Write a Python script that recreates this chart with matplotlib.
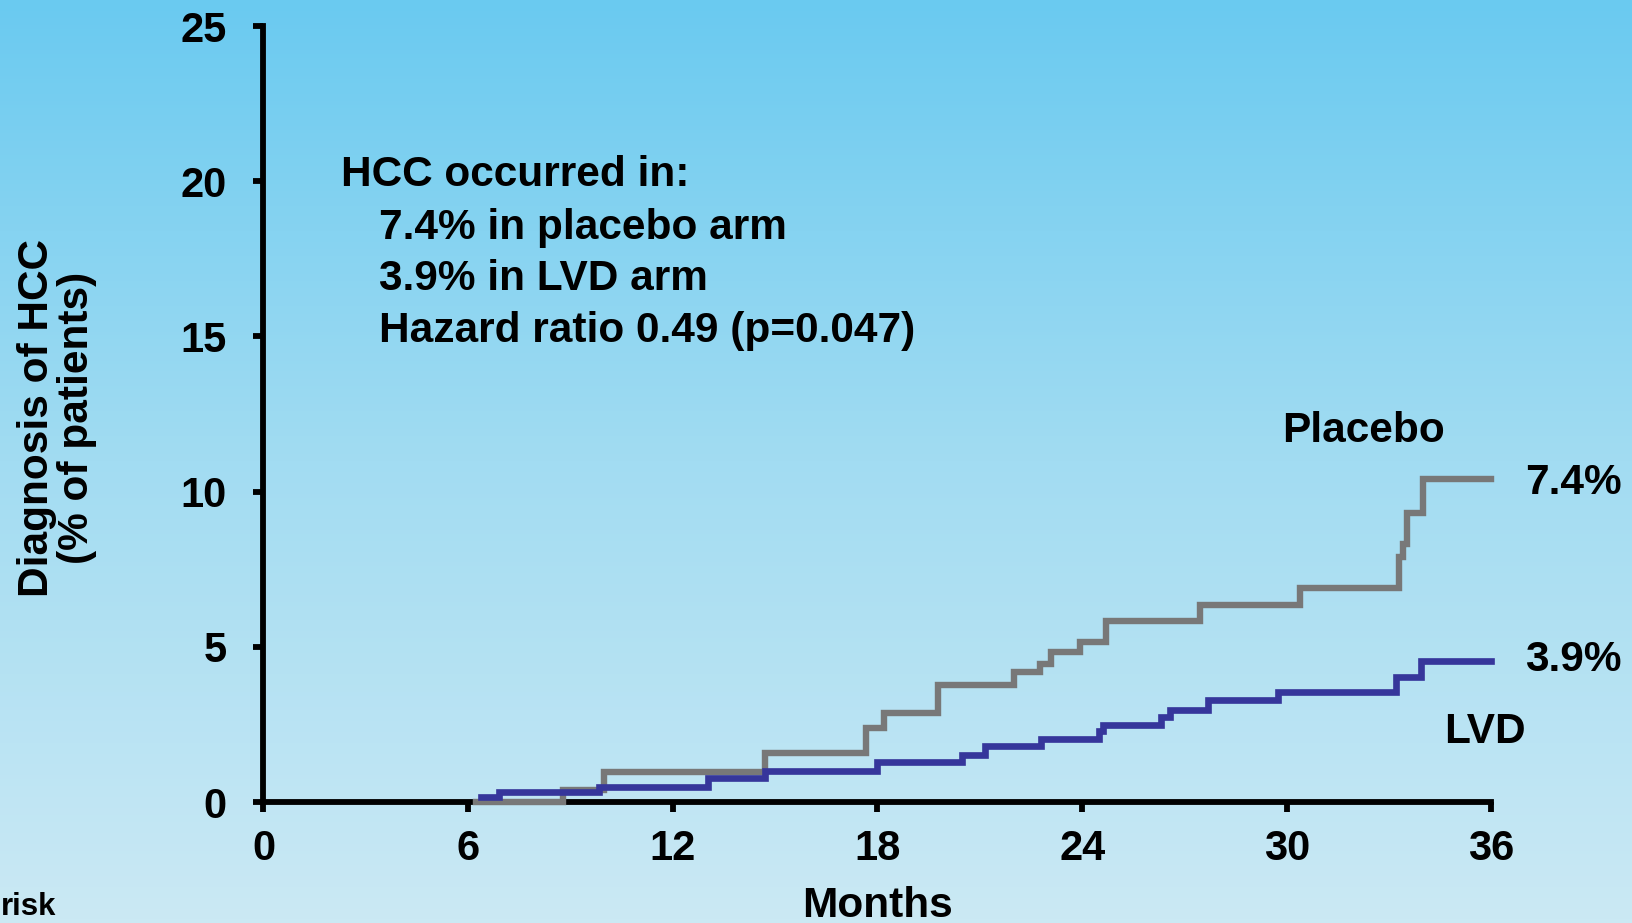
import numpy as np
import matplotlib
matplotlib.use("Agg")
import matplotlib.pyplot as plt
from matplotlib.colors import LinearSegmentedColormap

# ---- data ----
placebo_t = [6.23, 8.78, 9.98, 14.7, 17.66, 18.2, 19.76, 22.0, 22.75, 23.1, 23.94, 24.7, 27.46, 30.4, 33.3, 33.4, 33.53, 33.98, 36.0]
placebo_y = [0.0, 0.4, 0.97, 1.58, 2.4, 2.87, 3.76, 4.18, 4.45, 4.83, 5.15, 5.84, 6.35, 6.89, 7.9, 8.3, 9.3, 10.4, 10.4]
lvd_t = [6.38, 6.9, 9.83, 13.04, 14.7, 18.0, 20.48, 21.15, 22.8, 24.5, 24.6, 26.3, 26.57, 27.7, 29.75, 33.2, 33.94, 36.0]
lvd_y = [0.15, 0.32, 0.49, 0.77, 1.0, 1.3, 1.51, 1.8, 2.03, 2.3, 2.48, 2.74, 2.96, 3.29, 3.54, 4.03, 4.55, 4.55]
x_ticks = [0, 6, 12, 18, 24, 30, 36]
y_ticks = [0, 5, 10, 15, 20, 25]
notes = ["HCC occurred in:", "7.4% in placebo arm", "3.9% in LVD arm", "Hazard ratio 0.49 (p=0.047)"]

plt.rcParams['font.family'] = ['Liberation Sans', 'DejaVu Sans']
plt.rcParams['font.weight'] = 'bold'

W, H = 1633, 923
fig = plt.figure(figsize=(W / 100, H / 100), dpi=100)

# background gradient
bg = fig.add_axes([0, 0, 1, 1], zorder=-10)
cmap = LinearSegmentedColormap.from_list("bg", [(0.0, "#6ACAF0"), (0.5, "#A2DCF2"), (1.0, "#CBE9F4")])
grad = np.linspace(0, 1, 256).reshape(-1, 1)
bg.imshow(grad, aspect='auto', cmap=cmap, extent=[0, 1, 0, 1], origin='upper')
bg.axis('off')

left, right = 263.5 / W, 1491.5 / W
bottom, top = 1 - 802 / H, 1 - 26 / H
ax = fig.add_axes([left, bottom, right - left, top - bottom])
ax.patch.set_alpha(0)

ax.step(placebo_t, placebo_y, where='post', color='#787878', lw=4.6, solid_joinstyle='miter', zorder=3)
ax.step(lvd_t, lvd_y, where='post', color='#36369B', lw=4.8, solid_joinstyle='miter', zorder=4)

tfs = 30
ax.set_xlim(0, 36)
ax.set_ylim(0, 25)
ax.set_xticks(x_ticks)
ax.set_yticks(y_ticks)
ax.set_xticklabels([str(v) for v in x_ticks], fontsize=tfs, fontweight='bold')
ax.set_yticklabels([str(v) for v in y_ticks], fontsize=tfs, fontweight='bold')
for s in ['top', 'right']:
    ax.spines[s].set_visible(False)
for s in ['left', 'bottom']:
    ax.spines[s].set_linewidth(4.2)
    ax.spines[s].set_color('black')
ax.tick_params(axis='both', direction='out', length=7.5, width=4.2, colors='black')
ax.tick_params(axis='x', pad=12)
ax.tick_params(axis='y', pad=19)
for ln in ax.lines:
    ln.set_clip_on(False)

def fx(px):
    return px / W

def fy(py):
    return 1 - py / H

fs = 30.5
fig.text(fx(341), fy(175), notes[0], fontsize=fs, fontweight='bold', ha='left', va='center')
fig.text(fx(379), fy(228), notes[1], fontsize=fs, fontweight='bold', ha='left', va='center')
fig.text(fx(379), fy(279), notes[2], fontsize=fs, fontweight='bold', ha='left', va='center')
fig.text(fx(379), fy(331), notes[3], fontsize=fs, fontweight='bold', ha='left', va='center')

fig.text(fx(1364), fy(431), "Placebo", fontsize=fs, fontweight='bold', ha='center', va='center')
fig.text(fx(1525), fy(483), "7.4%", fontsize=fs, fontweight='bold', ha='left', va='center')
fig.text(fx(1525), fy(660), "3.9%", fontsize=fs, fontweight='bold', ha='left', va='center')
fig.text(fx(1485), fy(732), "LVD", fontsize=fs, fontweight='bold', ha='center', va='center')

fig.text(fx(878), fy(906), "Months", fontsize=fs, fontweight='bold', ha='center', va='center')
fig.text(fx(1), fy(907), "risk", fontsize=22.5, fontweight='bold', ha='left', va='center')

fig.text(fx(57), fy(418), "Diagnosis of HCC\n(% of patients)", fontsize=fs, fontweight='bold',
         rotation=90, ha='center', va='center', multialignment='center', linespacing=1.0)

fig.savefig("out.png", dpi=100)
